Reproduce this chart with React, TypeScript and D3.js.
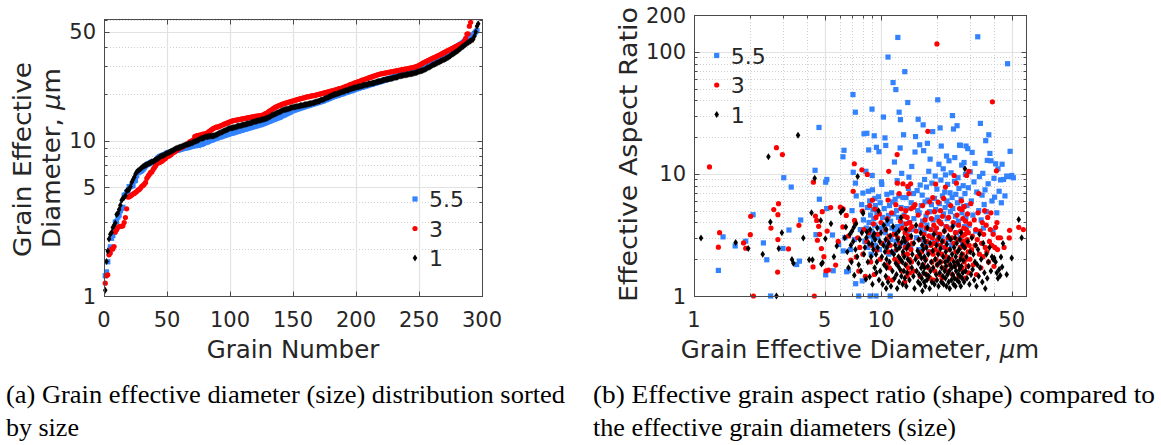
import React from "react";
import * as d3 from "d3";

// Each grain: [effective diameter (µm), effective aspect ratio], listed by diameter.
type Grain = [number, number];

const grains55: Grain[] = [
  [1.35,1.62],[1.43,3.05],[1.66,2.57],[1.89,2.81],[2.07,4.63],[2.35,2.72],[2.45,1.98],[2.57,1.0],[2.99,2.45],[3.02,9.3],
  [3.22,3.47],[3.31,7.8],[3.54,1.81],[3.66,1.93],[3.72,4.19],[4.44,10.7],[4.49,3.18],[4.66,24],[4.68,6.2],
  [5.06,8.55],[5.06,1.49],[5.12,5.2],[5.13,9.0],[5.5,3.16],[5.55,1.61],[5.94,2.64],[6.26,13.8],[6.28,2.34],[6.34,15.6],[6.41,3.0],
  [6.55,1.58],[6.7,1.61],[6.88,2.4],[7.0,5.0],[7.08,44.6],[7.1,10.3],[7.2,2.9],[7.29,32],[7.3,8.4],[7.32,1.26],
  [7.37,6.6],[7.6,1.0],[7.75,3.5],[7.88,5.6],[7.94,1.33],
  [8.0,6.96],[8.05,4.2],[8.11,21.3],[8.2,2.8],[8.3,10.5],[8.35,3.6],[8.4,21.5],[8.45,5.3],[8.5,2.5],[8.55,7.2],
  [8.59,15.7],[8.62,4.0],[8.66,3.1],[8.7,6.0],[8.75,1.0],
  [8.8,4.6],[8.85,2.2],[8.9,3.4],[8.95,33.9],[8.97,9.7],[9.0,7.4],[9.05,5.1],[9.1,2.9],[9.15,4.3],[9.2,20.5],
  [9.25,3.8],[9.28,6.3],[9.3,2.6],[9.33,5.5],[9.35,3.2],[9.4,1.0],
  [9.45,16.5],[9.5,4.8],[9.6,3.0],[9.7,6.5],[9.75,15.2],[9.8,2.4],[9.9,5.8],[10.0,3.6],[10.05,8.6],[10.1,8.2],
  [10.2,4.4],[10.3,29.2],[10.35,2.7],
  [10.4,5.2],[10.5,19.7],[10.55,3.3],[10.6,17.1],[10.7,2.55],[10.75,6.8],[10.8,3.9],[10.9,90.5],[10.95,4.57],[11.0,2.2],
  [11.1,5.5],[11.15,3.0],[11.2,1.0],
  [11.25,4.1],[11.3,2.9],[11.4,7.0],[11.45,3.6],[11.5,5.9],[11.6,55.9],[11.65,2.3],[11.7,4.7],[11.8,12.5],[11.85,3.4],
  [11.9,6.2],[12.0,49],[12.05,2.8],[12.1,5.0],[12.2,8.8],[12.25,3.7],[12.3,131],[12.4,4.4],[12.45,6.6],[12.5,32],
  [12.6,2.6],[12.65,16.3],[12.7,27.8],[12.8,5.3],
  [12.9,10.1],[13.0,3.9],[13.1,6.4],[13.2,20.9],[13.3,4.6],[13.4,68.7],[13.5,2.7],[13.6,6.4],[13.7,5.2],[13.8,3.3],
  [13.9,38.4],[14.0,7.6],[14.1,9.4],[14.2,4.0],[14.4,2.5],[14.5,5.8],[14.6,11.5],[14.8,3.5],[14.9,6.9],[15.0,4.3],
  [15.2,15.1],[15.3,20.2],
  [15.5,3.0],[15.6,7.3],[15.7,5.0],[15.8,28],[15.9,2.4],[16.0,4.8],[16.1,17.3],[16.2,8.1],[16.3,3.6],[16.4,5.5],
  [16.5,2.9],[16.6,6.7],[16.7,4.1],[16.8,25.2],[16.9,15.5],[17.0,3.3],[17.1,9.0],[17.2,5.9],[17.3,2.6],[17.4,4.5],
  [17.5,7.8],[17.6,3.8],[17.7,17.8],[17.8,6.1],[17.9,2.3],[18.0,10.5],[18.2,4.9],[18.3,13.2],[18.4,3.1],[18.6,5.6],
  [18.7,8.4],[18.9,22.2],[19.0,4.2],[19.2,2.8],
  [19.3,6.3],[19.4,3.5],[19.5,9.6],[19.6,5.1],[19.8,2.7],[19.9,7.5],[20.0,4.4],[20.1,40.4],[20.3,3.2],[20.4,12.0],
  [20.5,5.7],[20.7,23.8],[20.8,4.0],[20.9,8.9],[21.0,16.9],[21.2,3.0],[21.3,6.6],[21.5,11.0],[21.6,4.7],[21.7,2.5],
  [21.9,7.1],[22.0,5.3],[22.1,9.8],[22.2,3.7],[22.4,14.0],[22.5,6.0],
  [22.6,4.3],[22.7,8.2],[22.9,2.9],[23.0,5.6],[23.1,12.8],[23.3,3.6],[23.4,7.0],[23.5,4.9],[23.7,10.2],[23.8,2.6],
  [24.0,6.4],[24.1,30],[24.2,5.2],[24.4,23.3],[24.5,3.9],[24.7,8.7],[24.8,13.6],[25.0,4.5],[25.1,6.8],[25.3,3.3],
  [25.5,24.8],[25.6,5.8],[25.8,9.3],[25.9,4.1],[26.1,7.6],[26.3,17.2],[26.5,3.0],[26.6,17.1],[26.8,6.2],[27.0,11.8],
  [27.1,4.8],[27.3,2.7],[27.5,8.0],[27.6,5.4],[27.8,12.4],[28.0,3.7],[28.1,6.9],[28.3,9.9],[28.4,4.4],[28.5,16.9],
  [28.8,5.5],[29.1,16.1],[29.3,7.7],[29.6,3.8],[30.0,10.4],[30.4,6.0],[30.7,15.0],[31.0,4.6],[31.4,8.6],[31.8,12.2],
  [32.1,3.4],[32.5,7.1],[32.9,132.6],[33.3,5.0],[33.6,9.5],[34.0,25.9],[34.3,4.2],[34.7,6.7],[35.0,10.1],[35.3,3.6],
  [35.6,5.6],
  [36.0,7.4],[36.3,18.7],[36.6,4.9],[37.0,12.9],[37.4,8.3],[37.7,20.9],[38.2,14.7],[38.7,12.8],[39.2,6.0],[39.7,3.4],
  [40.2,9.2],[40.5,6.45],[41.0,12.1],[41.6,4.8],[42.2,11.0],[42.8,7.2],[43.6,8.93],[44.0,5.8],[44.4,12.0],
  [45.2,9.0],[46.0,6.6],[47.0,9.6],[47.5,79.8],[48.0,9.5],[49.0,15.3],[50.0,9.7],[51.0,9.3],
];

const grains3: Grain[] = [
  [1.21,11.4],[1.35,2.51],[1.37,3.3],[1.84,2.72],[1.89,2.46],[2.0,3.18],[2.01,4.49],[2.08,1.0],[2.58,3.6],[2.67,5.1],
  [2.76,16.4],[2.8,1.57],[2.81,4.63],[2.81,2.9],[2.83,5.7],[2.97,14.4],[3.2,2.43],[3.64,3.79],[4.33,1.73],[4.35,8.55],
  [4.4,1.0],[4.46,4.52],[4.53,4.16],[4.57,2.86],[4.64,3.72],
  [4.7,3.2],[4.8,2.45],[4.85,4.9],[4.95,2.1],[5.08,1.61],[5.15,3.4],[5.24,1.63],[5.38,5.3],[5.72,1.79],
  [5.9,2.8],[6.06,5.34],[6.25,3.68],[6.27,5.18],[6.52,4.57],[6.7,3.1],[6.9,1.97],[7.1,7.2],[7.2,12.1],[7.22,4.16],
  [7.3,3.96],[7.37,2.09],[7.5,3.0],[7.6,1.6],[7.7,2.5],[7.9,10.8],[7.94,4.96],[8.0,2.2],[8.1,3.5],[8.25,1.45],[8.4,2.8],
  [8.45,9.9],[8.6,3.3],[8.7,5.5],[8.8,1.9],[8.9,2.6],[9.0,6.1],[9.1,3.9],[9.2,1.5],[9.28,5.15],[9.4,4.4],[9.48,2.37],
  [9.6,3.2],[9.8,4.7],[9.9,2.0],[10.0,4.0],[10.1,2.7],
  [10.6,3.5],[10.7,1.8],[10.75,2.9],[10.8,4.3],[10.85,1.4],[10.9,6.1],[10.95,2.3],[11.0,10.5],[11.05,3.1],[11.1,1.7],
  [11.2,2.6],[11.4,4.8],[11.5,1.35],[11.7,3.2],[11.85,2.0],[12.0,5.6],
  [12.1,2.4],[12.2,14.4],[12.22,8.4],[12.3,3.0],[12.4,1.9],[12.5,6.9],[12.6,2.7],[12.7,4.1],[12.8,5.18],[12.9,1.6],
  [13.0,3.6],[13.1,8.3],[13.2,2.2],[13.3,4.5],[13.4,1.3],
  [13.45,3.3],[13.5,2.5],[13.55,5.0],[13.6,1.8],[13.65,3.9],[13.7,2.9],[13.75,1.45],[13.8,4.4],[13.85,2.2],[13.9,7.9],
  [13.95,3.1],[14.0,1.7],[14.05,2.6],[14.1,6.9],[14.15,3.5],[14.2,2.0],[14.25,4.0],[14.3,1.55],[14.35,3.0],[14.4,8.3],
  [14.45,2.4],[14.5,5.2],[14.55,1.9],[14.6,3.7],
  [14.7,2.7],[14.9,5.34],[15.0,1.6],[15.2,5.6],[15.4,3.4],[15.6,2.1],[15.8,4.6],[16.0,2.9],[16.2,1.45],[16.4,3.8],
  [16.5,2.3],[16.7,5.5],[16.8,1.8],[16.9,3.2],[17.1,2.5],[17.2,4.2],
  [17.3,2.0],[17.4,3.6],[17.5,1.5],[17.6,2.8],[17.7,4.8],[17.8,22.3],[17.9,1.7],[18.0,3.1],[18.1,2.3],[18.2,5.9],
  [18.3,1.4],[18.4,3.5],[18.5,2.6],[18.6,4.3],[18.7,1.9],[18.8,3.0],[18.9,6.4],[19.0,2.2],[19.1,1.35],[19.15,3.8],
  [19.2,2.7],[19.3,4.9],[19.4,1.6],[19.45,3.3],[19.5,2.4],[19.6,8.25],[19.7,2.0],
  [19.8,3.6],[19.9,116],[20.0,1.8],[20.1,2.9],[20.2,5.87],[20.3,2.3],[20.4,4.1],[20.5,1.5],[20.6,3.2],[20.7,2.6],
  [20.8,5.0],[20.9,1.9],[21.0,3.9],[21.1,2.2],[21.2,1.4],[21.3,4.5],[21.5,2.8],[21.6,6.3],[21.7,1.7],[21.8,3.4],
  [22.0,2.5],[22.1,7.8],[22.3,2.1],[22.4,3.7],[22.6,1.6],[22.8,3.0],
  [23.0,4.4],[23.1,2.4],[23.3,1.8],[23.5,3.5],[23.6,5.5],[23.8,2.0],[24.0,3.0],[24.1,1.5],[24.3,4.0],[24.5,2.7],
  [24.6,9.7],[24.8,1.75],[25.0,3.3],[25.1,2.3],[25.3,8.4],[25.5,4.6],[25.6,1.9],[25.8,2.9],[26.0,3.8],[26.1,1.45],
  [26.3,5.2],[26.5,2.5],[26.6,3.4],[26.8,2.1],[26.9,6.0],[27.0,1.7],[27.1,5.1],
  [27.2,3.1],[27.3,2.2],[27.4,4.3],[27.5,1.6],[27.6,2.8],[27.7,3.6],[27.8,1.9],[27.9,5.4],[28.0,2.5],[28.1,3.2],
  [28.2,1.4],[28.3,4.1],[28.4,2.7],[28.5,2.0],[28.6,3.5],[28.7,9.7],[28.8,1.75],[28.9,2.9],[29.0,4.7],[29.2,2.3],
  [29.3,3.3],[29.4,1.55],[29.5,10.5],[29.6,2.6],[29.8,3.9],[29.9,2.0],
  [30.2,5.7],[30.5,2.4],[30.8,3.1],[31.1,1.8],[31.5,4.2],[31.8,2.6],[32.1,3.5],[32.4,1.5],[32.7,2.9],[33.0,4.8],
  [33.3,6.9],[33.6,2.2],[33.9,3.4],[34.2,1.7],[34.5,2.7],[34.8,4.0],[35.1,2.1],[35.4,3.2],[35.8,5.0],[36.1,2.5],
  [36.5,3.8],
  [36.8,2.3],[37.2,4.4],[37.6,1.9],[38.0,2.8],[38.4,3.5],[38.7,4.8],[39.1,2.6],[39.4,38.9],[39.8,3.2],[40.2,1.75],
  [40.6,2.5],[41.0,3.65],[41.4,10.6],[41.7,4.0],[42.0,2.4],[42.3,3.0],
  [43.5,3.0],[45.5,2.5],[48.5,2.99],[48.7,3.45],[54.5,3.65],[57.7,3.5],
];

const grains1: Grain[] = [
  [1.09,2.99],[1.67,2.74],[1.95,2.45],[2.33,2.2],[2.5,13.8],[2.56,4.03],[2.76,1.0],[2.84,2.45],[2.95,3.3],[3.34,1.99],
  [3.4,1.85],[3.6,20.7],[3.84,2.99],[4.13,1.98],[4.25,4.8],[4.3,1.98],[4.42,9.2],[4.76,4.16],[4.8,1.83],[4.87,1.87],
  [5.04,2.95],[5.4,3.9],[5.6,2.1],[5.8,2.57],[6.1,4.86],[6.27,5.08],[6.4,3.0],[6.49,3.68],[6.6,2.3],[6.7,1.7],
  [6.82,3.2],[6.9,2.6],[6.95,1.9],[7.0,3.4],[7.1,2.8],[7.16,3.65],[7.2,1.48],[7.3,2.4],[7.35,3.9],[7.45,2.1],
  [7.5,9.5],[7.6,1.8],
  [7.7,2.9],[7.8,1.6],[7.9,3.3],[8.0,4.8],[8.02,4.75],[8.1,2.2],[8.2,2.5],[8.3,1.37],
  [8.35,3.0],[8.4,3.34],[8.5,1.9],[8.6,2.7],[8.7,1.44],[8.75,3.5],[8.85,2.1],[8.95,2.65],[9.0,1.25],[9.06,3.1],
  [9.1,2.4],[9.2,3.24],[9.25,1.7],[9.3,2.9],[9.4,2.2],[9.45,1.55],[9.5,1.9],[9.55,3.6],[9.6,2.5],[9.7,5.0],[9.75,1.35],
  [9.85,2.8],[9.9,1.6],[10.0,3.3],[10.1,2.1],[10.2,1.25],[10.3,2.6],[10.35,3.8],[10.4,1.8],[10.5,2.3],[10.6,1.45],
  [10.6,2.9],[10.65,1.15],[10.65,3.5],[10.7,2.0],[10.7,1.7],[10.75,2.5],[10.8,4.2],[10.9,1.3],
  [11.0,2.7],[11.1,1.9],[11.2,3.1],[11.3,1.2],[11.4,2.3],[11.5,1.6],[11.6,3.7],[11.7,2.2],[11.8,1.4],[11.9,2.6],[12.0,1.85],
  [12.05,3.2],[12.1,1.5],[12.15,2.4],[12.2,1.15],[12.3,2.9],[12.35,1.75],[12.4,2.1],[12.45,3.4],[12.5,1.3],[12.6,2.5],
  [12.65,1.65],[12.7,2.0],[12.8,4.4],[12.85,1.45],[12.9,2.75],[13.0,1.9],
  [13.05,1.25],[13.1,2.3],[13.2,3.0],[13.25,1.6],[13.3,2.1],[13.4,1.4],[13.45,2.8],[13.5,1.8],[13.6,3.5],[13.65,1.2],
  [13.7,2.45],[13.8,1.55],[13.9,2.0],
  [14.0,2.6],[14.2,1.35],[14.3,1.9],[14.5,3.1],[14.6,1.7],[14.7,2.2],[14.9,1.45],[15.0,2.7],[15.1,1.15],[15.3,2.0],
  [15.4,3.8],[15.5,1.6],[15.7,2.35],
  [15.8,1.3],[15.85,1.85],[15.9,2.9],[16.0,1.5],[16.1,2.2],[16.2,1.25],[16.3,3.3],[16.4,1.7],
  [16.45,2.05],[16.5,1.4],[16.6,2.6],[16.65,1.1],[16.7,1.8],[16.8,2.4],[16.85,1.55],[16.9,3.0],[17.0,1.3],[17.05,2.1],
  [17.1,1.7],[17.2,2.8],[17.25,1.2],[17.3,1.95],[17.4,1.5],[17.5,2.5],[17.6,1.35],[17.7,3.6],[17.8,1.75],
  [17.9,2.2],[18.0,1.45],[18.2,1.15],[18.3,2.7],[18.4,1.6],[18.6,1.9],[18.7,1.3],[18.9,2.35],[19.0,1.7],[19.2,3.2],
  [19.3,1.25],[19.5,2.0],[19.7,1.5],
  [19.8,2.6],[19.9,1.35],[20.0,1.8],[20.2,2.2],[20.3,1.2],[20.4,3.0],[20.6,1.55],[20.7,1.9],[20.8,2.45],[21.0,1.3],
  [21.1,1.7],[21.2,2.8],[21.4,1.45],[21.5,2.1],[21.6,1.25],[21.8,3.4],[21.9,1.6],[22.0,1.9],
  [22.1,1.4],[22.2,2.3],[22.3,1.75],[22.4,1.2],[22.5,2.65],[22.7,1.5],[22.8,1.95],[22.9,3.1],[23.0,1.3],[23.1,2.05],
  [23.2,1.6],[23.3,1.15],[23.4,2.4],[23.5,1.8],[23.6,2.9],[23.8,1.35],[23.9,1.7],[24.0,2.2],[24.1,1.5],[24.2,3.7],
  [24.4,1.25],[24.5,1.9],
  [24.6,2.5],[24.7,1.4],[24.8,1.75],[24.9,3.0],[25.0,1.2],[25.1,2.1],[25.2,1.6],[25.4,2.7],[25.5,1.35],[25.6,1.9],
  [25.7,2.3],[25.9,1.5],[26.0,1.8],
  [26.1,1.3],[26.2,2.4],[26.3,1.65],[26.4,2.9],[26.5,1.45],[26.6,2.0],[26.7,1.2],[26.8,3.3],[26.9,1.75],[27.0,2.2],
  [27.1,1.4],[27.3,2.6],[27.4,1.55],
  [27.6,1.95],[27.8,1.3],[28.0,2.5],[28.1,11.0],[28.3,1.6],[28.6,2.1],[28.8,1.4],[29.1,2.8],[29.4,1.75],[29.7,1.25],
  [30.0,2.3],[30.3,1.5],[30.6,3.0],
  [30.9,1.65],[31.2,2.2],[31.5,1.35],[31.8,1.9],[32.1,2.6],[32.4,1.2],[32.7,1.8],[33.0,2.4],[33.3,1.45],[33.6,3.2],[33.9,1.7],
  [34.3,2.0],[34.8,1.3],[35.2,2.7],[35.7,1.55],[36.1,1.15],[36.6,2.2],[37.0,1.4],[37.5,1.9],[38.0,2.5],[38.7,1.6],
  [39.2,2.1],[39.8,2.0],[40.3,2.05],[41.0,1.9],[41.6,1.55],[42.2,1.4],[42.8,1.65],[43.4,1.47],[43.8,2.09],[44.4,1.73],
  [44.9,2.69],[47.0,1.5],[50.0,2.05],[54.5,4.24],[56.5,3.0],
];

const seriesLabels = ["5.5", "3", "1"];
const rankTicks = [0, 50, 100, 150, 200, 250, 300];
const sizeTicks = [1, 5, 10, 50];
const sizeMinor = [2, 3, 4, 6, 7, 8, 9, 20, 30, 40, 60];
const aspectTicks = [1, 10, 100, 200];
const aspectMinor = [2, 3, 4, 5, 6, 7, 8, 9, 20, 30, 40, 50, 60, 70, 80, 90];

const captionA = ["(a) Grain effective diameter (size) distribution sorted", "by size"];
const captionB = ["(b) Effective grain aspect ratio (shape) compared to", "the effective grain diameters (size)"];

type MarkerKind = "square" | "circle" | "diamond";
const seriesStyle: { color: string; marker: MarkerKind }[] = [
  { color: "#3383ff", marker: "square" },
  { color: "#ff0000", marker: "circle" },
  { color: "#000000", marker: "diamond" },
];
const seriesData = [grains55, grains3, grains1];

const SANS = "'DejaVu Sans', sans-serif";
const SERIF = "'Liberation Serif', 'Times New Roman', serif";
const INK = "#262626";
const AXIS = "#4a4a4a";
const GRID_MAJOR = "#e2e2e2";
const GRID_MINOR = "#cfcfcf";

const crisp = (v: number) => Math.round(v) + 0.5;

function Marker({ kind, x, y, color }: { kind: MarkerKind; x: number; y: number; color: string }) {
  if (kind === "square") return <rect x={x - 2.6} y={y - 2.6} width={5.2} height={5.2} fill={color} />;
  if (kind === "circle") return <circle cx={x} cy={y} r={2.6} fill={color} />;
  return <path d={`M${x},${y - 3.5}L${x + 2.3},${y}L${x},${y + 3.5}L${x - 2.3},${y}Z`} fill={color} />;
}

type Sc = ((v: number) => number) & { range: () => number[]; domain: () => number[] };

function Grid({ x, y, xMajor, xMinor, yMajor, yMinor }: { x: Sc; y: Sc; xMajor: number[]; xMinor: number[]; yMajor: number[]; yMinor: number[] }) {
  const [xl, xr] = x.range();
  const [yb, yt] = y.range();
  const [dx0, dx1] = x.domain();
  const [dy0, dy1] = y.domain();
  const inX = (v: number) => v > dx0 && v < dx1;
  const inY = (v: number) => v > dy0 && v < dy1;
  return (
    <g>
      {xMinor.filter(inX).map((v) => (
        <line key={`xm${v}`} x1={crisp(x(v))} x2={crisp(x(v))} y1={yb} y2={yt} stroke={GRID_MINOR} strokeDasharray="1 2" />
      ))}
      {yMinor.filter(inY).map((v) => (
        <line key={`ym${v}`} y1={crisp(y(v))} y2={crisp(y(v))} x1={xl} x2={xr} stroke={GRID_MINOR} strokeDasharray="1 2" />
      ))}
      {xMajor.filter(inX).map((v) => (
        <line key={`xM${v}`} x1={crisp(x(v))} x2={crisp(x(v))} y1={yb} y2={yt} stroke={GRID_MAJOR} strokeWidth={1.2} />
      ))}
      {yMajor.filter(inY).map((v) => (
        <line key={`yM${v}`} y1={crisp(y(v))} y2={crisp(y(v))} x1={xl} x2={xr} stroke={GRID_MAJOR} strokeWidth={1.2} />
      ))}
    </g>
  );
}

function Frame({ x, y, xMajor, xMinor, yMajor, yMinor }: { x: Sc; y: Sc; xMajor: number[]; xMinor: number[]; yMajor: number[]; yMinor: number[] }) {
  const [xl, xr] = x.range();
  const [yb, yt] = y.range();
  const [dx0, dx1] = x.domain();
  const [dy0, dy1] = y.domain();
  const okX = (v: number) => v >= dx0 && v <= dx1;
  const okY = (v: number) => v >= dy0 && v <= dy1;
  const L = Math.round(xl) + 0.5, R = Math.round(xr) + 0.5, B = Math.round(yb) + 0.5, T = Math.round(yt) + 0.5;
  const ticks: JSX.Element[] = [];
  const addX = (v: number, len: number, k: string) => {
    const p = crisp(x(v));
    ticks.push(<line key={`bx${k}`} x1={p} x2={p} y1={B} y2={B - len} stroke={AXIS} />);
    ticks.push(<line key={`tx${k}`} x1={p} x2={p} y1={T} y2={T + len} stroke={AXIS} />);
  };
  const addY = (v: number, len: number, k: string) => {
    const p = crisp(y(v));
    ticks.push(<line key={`ly${k}`} y1={p} y2={p} x1={L} x2={L + len} stroke={AXIS} />);
    ticks.push(<line key={`ry${k}`} y1={p} y2={p} x1={R} x2={R - len} stroke={AXIS} />);
  };
  xMajor.filter(okX).forEach((v) => addX(v, 5, `M${v}`));
  xMinor.filter(okX).forEach((v) => addX(v, 3, `m${v}`));
  yMajor.filter(okY).forEach((v) => addY(v, 5, `M${v}`));
  yMinor.filter(okY).forEach((v) => addY(v, 3, `m${v}`));
  return (
    <g>
      {ticks}
      <rect x={L} y={T} width={R - L} height={B - T} fill="none" stroke={AXIS} strokeWidth={1} />
    </g>
  );
}

function Legend({ x, y }: { x: number; y: number }) {
  return (
    <g>
      {seriesLabels.map((lab, i) => (
        <g key={lab}>
          <Marker kind={seriesStyle[i].marker} x={x} y={y + i * 29.5} color={seriesStyle[i].color} />
          <text x={x + 14} y={y + i * 29.5 + 8} fontFamily={SANS} fontSize={22} fill={INK}>{lab}</text>
        </g>
      ))}
    </g>
  );
}

export default function App() {
  // Panel (a): grains ranked by effective diameter
  const xA = d3.scaleLinear().domain([0, 300]).range([104, 482]) as unknown as Sc;
  const yA = d3.scaleLog().domain([1, 60.6]).range([296, 19]) as unknown as Sc;
  // Panel (b): aspect ratio against effective diameter
  const xB = d3.scaleLog().domain([1, 59.6]).range([694, 1026]) as unknown as Sc;
  const yB = d3.scaleLog().domain([1, 200]).range([296, 15]) as unknown as Sc;

  const ranked = seriesData.map((g) => g.map((p) => p[0]).sort((a, b) => a - b));

  return (
    <svg width={1161} height={445} style={{ position: "absolute", left: 0, top: 0, background: "#fff" }}>
      <rect width={1161} height={445} fill="#fff" />

      {/* panel (a) */}
      <Grid x={xA} y={yA} xMajor={rankTicks} xMinor={[]} yMajor={sizeTicks} yMinor={sizeMinor} />
      {ranked.map((ds, s) => (
        <g key={`a${s}`}>
          {ds.map((d, i) => (
            <Marker key={i} kind={seriesStyle[s].marker} x={xA(i + 1)} y={yA(d)} color={seriesStyle[s].color} />
          ))}
        </g>
      ))}
      <Frame x={xA} y={yA} xMajor={rankTicks} xMinor={[]} yMajor={sizeTicks} yMinor={sizeMinor} />
      {rankTicks.map((t) => (
        <text key={`ra${t}`} x={xA(t)} y={326.5} textAnchor="middle" fontFamily={SANS} fontSize={21} fill={INK}>{t}</text>
      ))}
      {sizeTicks.map((t) => (
        <text key={`sa${t}`} x={96} y={yA(t) + 7.5} textAnchor="end" fontFamily={SANS} fontSize={21} fill={INK}>{t}</text>
      ))}
      <text x={293} y={358} textAnchor="middle" fontFamily={SANS} fontSize={24.5} fill={INK}>Grain Number</text>
      <g fontFamily={SANS} fontSize={24.5} fill={INK} textAnchor="middle">
        <text transform="translate(31,159.5) rotate(-90)" textLength={195} lengthAdjust="spacingAndGlyphs">Grain Effective</text>
        <text transform="translate(60,158) rotate(-90)" textLength={180} lengthAdjust="spacingAndGlyphs">
          Diameter, <tspan fontStyle="italic">μ</tspan>m
        </text>
      </g>
      <Legend x={415} y={199} />

      {/* panel (b) */}
      <Grid x={xB} y={yB} xMajor={sizeTicks} xMinor={sizeMinor} yMajor={aspectTicks} yMinor={aspectMinor} />
      {seriesData.map((g, s) => (
        <g key={`b${s}`}>
          {g.map((p, i) => (
            <Marker key={i} kind={seriesStyle[s].marker} x={xB(p[0])} y={yB(p[1])} color={seriesStyle[s].color} />
          ))}
        </g>
      ))}
      <Frame x={xB} y={yB} xMajor={sizeTicks} xMinor={sizeMinor} yMajor={aspectTicks} yMinor={aspectMinor} />
      {sizeTicks.map((t) => (
        <text key={`sb${t}`} x={xB(t)} y={326.5} textAnchor="middle" fontFamily={SANS} fontSize={21} fill={INK}>{t}</text>
      ))}
      {aspectTicks.map((t) => (
        <text key={`ab${t}`} x={686} y={yB(t) + 7.5} textAnchor="end" fontFamily={SANS} fontSize={21} fill={INK}>{t}</text>
      ))}
      <text x={860} y={358} textAnchor="middle" fontFamily={SANS} fontSize={24.5} fill={INK}>
        Grain Effective Diameter, <tspan fontStyle="italic">μ</tspan>m
      </text>
      <text transform="translate(637,154.5) rotate(-90)" textAnchor="middle" fontFamily={SANS} fontSize={24.5} fill={INK}
        textLength={295} lengthAdjust="spacingAndGlyphs">
        Effective Aspect Ratio
      </text>
      <Legend x={716.7} y={55.5} />

      {/* captions */}
      <g fontFamily={SERIF} fontSize={26} fill="#000">
        <text x={6} y={403} textLength={559} lengthAdjust="spacingAndGlyphs">{captionA[0]}</text>
        <text x={6} y={436}>{captionA[1]}</text>
        <text x={593} y={403} textLength={562} lengthAdjust="spacingAndGlyphs">{captionB[0]}</text>
        <text x={593} y={436} textLength={363} lengthAdjust="spacingAndGlyphs">{captionB[1]}</text>
      </g>
    </svg>
  );
}
